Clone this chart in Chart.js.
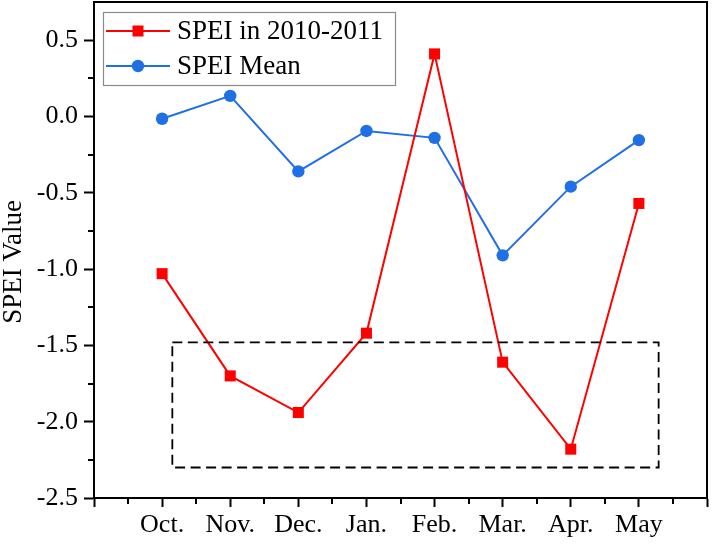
<!DOCTYPE html>
<html>
<head>
<meta charset="utf-8">
<script src="https://cdn.jsdelivr.net/npm/chart.js@4"></script>
<style>
html,body{margin:0;padding:0;background:#fff;}
#wrap{width:712px;height:545px;}
</style>
</head>
<body>
<div id="wrap"><canvas id="c" width="712" height="545"></canvas></div>
<script>
const categories = ['Oct.', 'Nov.', 'Dec.', 'Jan.', 'Feb.', 'Mar.', 'Apr.', 'May'];
const spei2010 = [-1.03, -1.70, -1.94, -1.42, 0.41, -1.61, -2.18, -0.57];
const speiMean = [-0.015, 0.135, -0.36, -0.095, -0.14, -0.91, -0.46, -0.155];
const yTicks = [-2.5, -2.0, -1.5, -1.0, -0.5, 0.0, 0.5];
const yTitle = 'SPEI Value';
// dashed highlight box in data units: [xStart, xEnd], [yTop, yBottom]
const boxX = [0.15, 7.29];
const boxY = [-1.48, -2.30];

const FONT = '"Liberation Serif", "Times New Roman", serif';
const RED = '#ff0000';
const BLUE = '#1f6fe5';

const toPts = arr => arr.map((v, i) => ({x: i, y: v}));

const framePlugin = {
  id: 'frame',
  afterDraw(chart) {
    const ctx = chart.ctx, a = chart.chartArea;
    const xs = chart.scales.x, ys = chart.scales.y;
    ctx.save();
    // minor ticks
    ctx.strokeStyle = '#000';
    ctx.lineWidth = 2;
    ctx.beginPath();
    for (let i = -1; i < 8; i++) {
      const px = Math.round(xs.getPixelForValue(i + 0.5));
      ctx.moveTo(px, a.bottom); ctx.lineTo(px, a.bottom + 6);
    }
    for (let k = 0; k < yTicks.length - 1; k++) {
      const v = (yTicks[k] + yTicks[k + 1]) / 2;
      const py = Math.round(ys.getPixelForValue(v));
      ctx.moveTo(a.left, py); ctx.lineTo(a.left - 6, py);
    }
    ctx.stroke();
    // frame
    ctx.lineWidth = 2;
    ctx.strokeRect(a.left, a.top, a.right - a.left, a.bottom - a.top);
    // dashed box
    ctx.setLineDash([10, 5.5]);
    ctx.lineWidth = 1.8;
    const x1 = xs.getPixelForValue(boxX[0]), x2 = xs.getPixelForValue(boxX[1]);
    const y1 = ys.getPixelForValue(boxY[0]), y2 = ys.getPixelForValue(boxY[1]);
    ctx.strokeRect(x1, y1, x2 - x1, y2 - y1);
    ctx.setLineDash([]);
    // y title
    ctx.save();
    ctx.translate(14, 262);
    ctx.rotate(-Math.PI / 2);
    ctx.fillStyle = '#000';
    ctx.font = '27px ' + FONT;
    ctx.textAlign = 'center';
    ctx.textBaseline = 'middle';
    ctx.fillText(yTitle, 0, 0);
    ctx.restore();
    // legend
    const lx = 103, ly = 12, lw = 292, lh = 73;
    ctx.fillStyle = '#fff';
    ctx.fillRect(lx, ly, lw, lh);
    ctx.strokeStyle = '#8a8a8a';
    ctx.lineWidth = 1.2;
    ctx.strokeRect(lx + 0.5, ly + 0.5, lw, lh);
    chart.data.datasets.forEach((ds, i) => {
      const cy = 31 + i * 35;
      ctx.strokeStyle = ds.borderColor;
      ctx.lineWidth = 2;
      ctx.beginPath(); ctx.moveTo(106, cy); ctx.lineTo(170, cy); ctx.stroke();
      ctx.fillStyle = ds.backgroundColor;
      if (ds.pointStyle === 'rect') {
        ctx.fillRect(138 - 5.5, cy - 5.5, 11, 11);
      } else {
        ctx.beginPath(); ctx.arc(138, cy, 6.2, 0, Math.PI * 2); ctx.fill();
      }
      ctx.fillStyle = '#000';
      ctx.font = '27px ' + FONT;
      ctx.textBaseline = 'middle';
      ctx.textAlign = 'left';
      ctx.fillText(ds.label, 177, cy + 1);
    });
    ctx.restore();
  }
};

new Chart(document.getElementById('c'), {
  type: 'line',
  data: {
    datasets: [
      {
        label: 'SPEI in 2010-2011',
        data: toPts(spei2010),
        borderColor: RED,
        backgroundColor: RED,
        borderWidth: 2,
        pointStyle: 'rect',
        pointRadius: 7.8,
        pointBorderWidth: 0,
        tension: 0,
        clip: false
      },
      {
        label: 'SPEI Mean',
        data: toPts(speiMean),
        borderColor: BLUE,
        backgroundColor: BLUE,
        borderWidth: 2,
        pointStyle: 'circle',
        pointRadius: 6.2,
        pointBorderWidth: 0,
        tension: 0,
        clip: false
      }
    ]
  },
  options: {
    responsive: false,
    animation: false,
    devicePixelRatio: 1,
    layout: {autoPadding: false, padding: {left: 0, right: 5, top: 2, bottom: 0}},
    plugins: {legend: {display: false}, tooltip: {enabled: false}},
    scales: {
      x: {
        type: 'linear',
        min: -1, max: 8,
        afterFit(s) { s.height = 47; s.paddingLeft = 0; s.paddingRight = 0; },
        afterBuildTicks(s) {
          s.ticks = [];
          for (let i = -1; i <= 8; i++) s.ticks.push({value: i});
        },
        ticks: {
          callback: v => (v >= 0 && v < categories.length ? categories[v] : ''),
          font: {family: FONT, size: 26},
          color: '#000',
          padding: 3,
          maxRotation: 0,
          autoSkip: false
        },
        grid: {display: true, drawOnChartArea: false, drawTicks: true, tickLength: 9, tickWidth: 2, tickColor: '#000'},
        border: {display: true, color: '#000', width: 2}
      },
      y: {
        min: -2.5, max: 0.75,
        afterFit(s) { s.width = 94; s.paddingTop = 0; s.paddingBottom = 0; },
        afterBuildTicks(s) { s.ticks = yTicks.map(v => ({value: v})); },
        ticks: {
          callback: v => v.toFixed(1),
          font: {family: FONT, size: 26},
          color: '#000',
          padding: 6
        },
        title: {display: false},
        grid: {display: true, drawOnChartArea: false, drawTicks: true, tickLength: 10, tickWidth: 2, tickColor: '#000'},
        border: {display: true, color: '#000', width: 2}
      }
    }
  },
  plugins: [framePlugin]
});
</script>
</body>
</html>
